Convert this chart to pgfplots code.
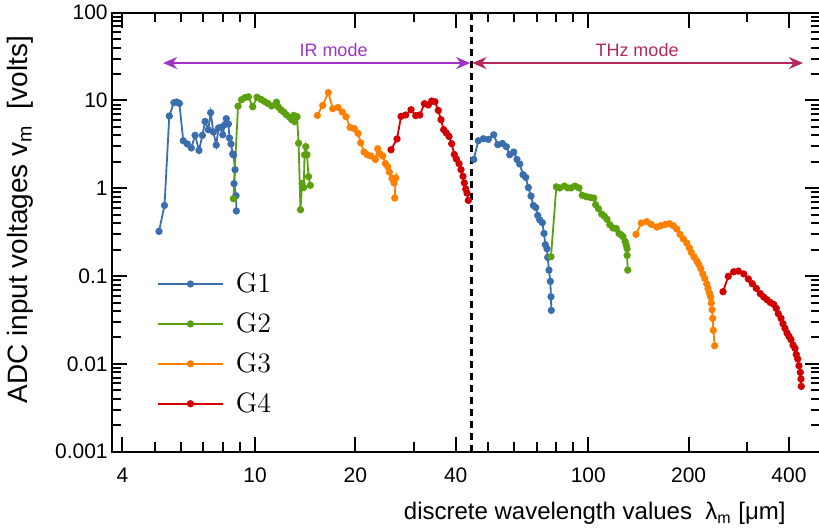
\documentclass[border=0pt]{standalone}
\usepackage{fontspec}
\setsansfont{Liberation Sans}
\usepackage{pgfplots}
\pgfplotsset{compat=1.18}
\usetikzlibrary{arrows.meta}
\definecolor{cGa}{RGB}{58,110,172}
\definecolor{cGb}{RGB}{90,160,15}
\definecolor{cGc}{RGB}{255,128,0}
\definecolor{cGd}{RGB}{210,0,0}
\definecolor{cIR}{RGB}{160,50,200}
\definecolor{cTHz}{RGB}{178,40,95}
\pgfplotsset{gser/.style={color=#1, mark=*, mark size=1.35pt, line width=0.9pt, mark options={fill=#1, draw=#1, solid}}}
\begin{document}
\begin{tikzpicture}
\useasboundingbox (-55.85pt,-38.15pt) rectangle (353.65pt,225.85pt);
\begin{axis}[
 at={(0,0)}, anchor=south west,
 scale only axis, width=354.15pt, height=219.5pt,
 xmode=log, ymode=log,
 xmin=3.715, xmax=495.6, ymin=0.001, ymax=100,
 xtick={4,10,20,40,100,200,400},
 xticklabels={4,10,20,40,100,200,400},
 minor xtick={5,6,7,8,9,30,50,60,70,80,90,300},
 ytick={0.001,0.01,0.1,1,10,100},
 yticklabels={0.001,0.01,0.1,1,10,100},
 minor ytick={0.002,0.003,0.004,0.005,0.006,0.007,0.008,0.009,0.02,0.03,0.04,0.05,0.06,0.07,0.08,0.09,0.2,0.3,0.4,0.5,0.6,0.7,0.8,0.9,2,3,4,5,6,7,8,9,20,30,40,50,60,70,80,90},
 tick align=inside,
 major tick length=7.5pt, minor tick length=4.75pt,
 every tick/.style={black, line width=1pt},
 axis line style={line width=1.1pt},
 /pgf/number format/assume math mode=true,
 ticklabel style={font=\sffamily\fontsize{10.5}{12}\selectfont},
 xticklabel style={yshift=-4.5pt},
 yticklabel style={xshift=1.5pt},
 xlabel={discrete wavelength values\ \ λ\textsubscript{m} [μm]},
 xlabel style={at={(axis description cs:0.952,-0.114)}, anchor=north east, inner sep=0pt, font=\sffamily\fontsize{12}{14}\selectfont},
 ylabel={ADC input voltages v\textsubscript{m}\ \ [volts]},
 ylabel style={at={(axis description cs:-0.1295,0.528)}, anchor=center, font=\sffamily\fontsize{14}{16}\selectfont},
 legend style={draw=none, fill=none, at={(axis description cs:0.055,0.427)}, anchor=north west, font=\rmfamily\fontsize{14}{16}\selectfont, row sep=4.6pt, /tikz/every odd column/.append style={column sep=4pt}},
 legend cell align=left,
 legend image code/.code={\draw[mark repeat=2,mark phase=2] plot coordinates {(0pt,0pt) (16.25pt,0pt) (32.5pt,0pt)};},
]
\addplot[gser=cGa] coordinates {(5.15,0.323) (5.35,0.638) (5.53,6.66) (5.71,9.44) (5.82,9.62) (5.93,9.27) (6.09,3.48) (6.26,3.20) (6.44,2.88) (6.61,4.01) (6.79,2.70) (6.95,4.01) (7.08,5.78) (7.24,4.65) (7.36,7.26) (7.50,4.38) (7.65,3.11) (7.77,4.86) (7.89,4.94) (8.00,4.07) (8.11,5.30) (8.20,6.21) (8.32,5.40) (8.38,3.74) (8.47,3.20) (8.57,2.46) (8.62,2.40) (8.71,1.63) (8.65,1.13) (8.77,0.824) (8.79,0.551)};
\addlegendentry{G1}
\addplot[gser=cGb] coordinates {(8.61,0.762) (8.89,8.61) (9.11,10.2) (9.33,10.8) (9.55,11.0) (9.84,8.49) (10.14,10.9) (10.42,10.3) (10.66,9.77) (10.92,9.27) (11.22,8.65) (11.60,9.57) (11.76,8.39) (11.97,7.80) (12.19,7.40) (12.41,6.89) (12.71,6.42) (12.89,6.04) (13.07,6.76) (13.25,6.37) (13.14,5.74) (13.37,6.53) (13.51,3.26) (13.69,0.570) (13.84,1.13) (14.00,1.02) (14.08,2.41) (14.20,2.98) (14.32,2.41) (14.47,1.36) (14.65,1.08)};
\addlegendentry{G2}
\addplot[gser=cGc] coordinates {(15.38,6.76) (15.96,8.79) (16.59,12.3) (17.11,8.07) (17.74,8.34) (18.27,7.40) (18.75,6.53) (19.28,4.94) (19.86,4.78) (20.37,4.22) (20.75,3.30) (21.23,2.59) (21.72,2.41) (22.28,2.33) (22.96,2.13) (23.34,2.82) (23.71,2.46) (24.16,2.33) (24.60,1.92) (25.01,1.76) (25.29,1.53) (25.76,1.29) (26.12,1.15) (26.43,1.31) (26.25,0.776)};
\addlegendentry{G3}
\addplot[gser=cGd] coordinates {(25.59,2.75) (26.67,3.65) (27.42,6.59) (28.32,6.84) (29.38,7.85) (30.36,6.72) (31.21,6.84) (32.22,9.20) (33.11,8.89) (33.90,9.86) (34.67,9.68) (35.47,7.71) (36.14,6.04) (36.82,4.65) (37.49,4.27) (38.19,3.90) (38.91,3.22) (39.62,2.43) (40.17,2.16) (40.93,1.91) (41.50,1.63) (42.07,1.37) (42.46,1.15) (42.87,0.982) (43.25,0.883) (43.64,0.728)};
\addlegendentry{G4}
\addplot[gser=cGa, forget plot] coordinates {(45.31,2.13) (46.77,3.48) (48.42,3.67) (50.12,3.61) (52.02,4.07) (53.48,3.14) (55.21,3.24) (56.75,2.98) (58.10,2.41) (59.72,2.59) (61.09,2.13) (62.25,1.89) (63.68,1.43) (64.89,1.33) (66.07,1.02) (67.30,0.817) (68.39,0.638) (69.54,0.605) (70.50,0.491) (71.49,0.436) (72.78,0.406) (73.64,0.306) (74.30,0.228) (75.16,0.205) (75.54,0.163) (76.21,0.117) (76.91,0.0871) (77.27,0.0582) (77.44,0.0407)};
\addplot[gser=cGb, forget plot] coordinates {(77.27,0.166) (80.17,1.04) (82.07,1.01) (84.72,1.06) (86.74,1.01) (88.72,1.01) (91.20,1.06) (93.76,1.01) (95.94,0.830) (98.63,0.802) (101.4,0.787) (103.8,0.774) (105.2,0.650) (107.2,0.586) (109.7,0.509) (111.7,0.481) (113.8,0.443) (116.0,0.385) (118.6,0.353) (121.3,0.347) (123.6,0.306) (125.3,0.296) (127.1,0.281) (128.9,0.248) (130.0,0.224) (130.7,0.205) (130.7,0.172) (131.3,0.117)};
\addplot[gser=cGc, forget plot] coordinates {(139.0,0.299) (144.2,0.403) (149.7,0.417) (154.5,0.388) (160.4,0.362) (164.9,0.375) (170.2,0.388) (175.0,0.395) (179.9,0.375) (184.2,0.344) (188.4,0.299) (192.8,0.265) (197.4,0.238) (200.9,0.210) (203.7,0.186) (207.6,0.165) (211.5,0.149) (214.4,0.136) (217.4,0.122) (220.4,0.106) (223.5,0.0942) (226.6,0.0819) (228.6,0.0724) (230.7,0.0642) (232.9,0.0578) (233.9,0.0494) (235.0,0.0414) (236.2,0.0330) (237.1,0.0241) (239.4,0.0161)};
\addplot[gser=cGd, forget plot] coordinates {(253.6,0.0664) (263.0,0.0993) (273.0,0.112) (281.8,0.114) (292.5,0.106) (302.0,0.0927) (310.5,0.0819) (319.2,0.0724) (328.1,0.0631) (336.0,0.0578) (343.7,0.0538) (351.6,0.0501) (359.9,0.0476) (366.4,0.0429) (371.5,0.0373) (378.5,0.0330) (383.8,0.0287) (389.1,0.0254) (394.5,0.0225) (400.0,0.0206) (405.6,0.0189) (411.3,0.0164) (417.0,0.0150) (420.7,0.0128) (424.8,0.0114) (428.5,0.00953) (432.5,0.00800) (434.6,0.00673) (435.5,0.00555)};
\addplot[black, line width=1.5pt, mark=none, dash pattern=on 3.5pt off 2.5pt, forget plot] coordinates {(44.5,0.001) (44.5,100)};
\draw[cIR, line width=0.9pt, {Stealth[length=7pt,width=6pt]}-{Stealth[length=7pt,width=6pt]}] (axis cs:5.3,26.7) -- (axis cs:44.2,26.7);
\draw[cTHz, line width=0.9pt, {Stealth[length=7pt,width=6pt]}-{Stealth[length=7pt,width=6pt]}] (axis cs:44.9,26.7) -- (axis cs:440.6,26.7);
\node[cIR, font=\sffamily\fontsize{9}{10}\selectfont] at (axis cs:17.2,37.9) {IR mode};
\node[cTHz, font=\sffamily\fontsize{9}{10}\selectfont] at (axis cs:140,37.9) {THz mode};
\end{axis}
\end{tikzpicture}
\end{document}
